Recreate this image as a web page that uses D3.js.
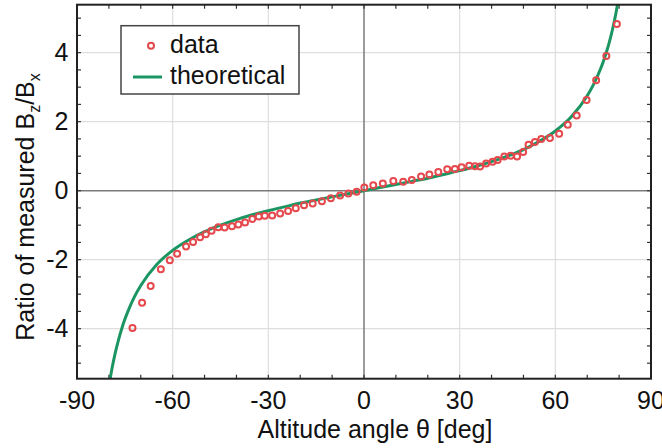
<!DOCTYPE html>
<html><head><meta charset="utf-8">
<script src="https://cdn.jsdelivr.net/npm/d3@7"></script>
<style>html,body{margin:0;padding:0;background:#fff;}svg{display:block;font-family:"Liberation Sans",Arial,sans-serif;}</style>
</head><body>
<svg id="c" width="662" height="448"></svg>
<script>
// measured data: altitude angle (deg) and ratio Bz/Bx
const dataAngle = [-72.6,-69.6,-66.9,-63.7,-60.9,-58.6,-55.8,-53.6,-51.4,-49.6,-47.8,-45.7,-43.7,-41.4,-39.4,-37.3,-35.0,-33.0,-31.1,-28.8,-26.3,-23.8,-21.4,-18.8,-16.1,-13.2,-10.4,-7.5,-4.9,-2.3,0.1,2.9,5.9,9.2,12.3,15.0,17.9,20.5,23.3,26.1,28.5,30.6,33.0,34.8,36.4,38.3,40.3,41.9,44.0,46.0,48.0,49.9,51.6,53.6,55.6,58.3,61.2,63.9,66.7,69.8,72.8,76.0,79.3];
const dataRatio = [-3.98,-3.25,-2.76,-2.28,-2.02,-1.83,-1.62,-1.49,-1.35,-1.26,-1.16,-1.06,-1.07,-1.03,-0.98,-0.92,-0.82,-0.75,-0.73,-0.72,-0.66,-0.59,-0.51,-0.42,-0.37,-0.31,-0.22,-0.14,-0.08,-0.03,0.09,0.16,0.21,0.28,0.26,0.31,0.41,0.47,0.54,0.62,0.63,0.68,0.72,0.71,0.70,0.79,0.84,0.89,0.99,1.01,0.99,1.12,1.33,1.41,1.50,1.53,1.65,1.91,2.18,2.63,3.20,3.90,4.83];
// theoretical curve points
const theoAngle = [-80,-79,-78,-77,-76,-75,-74,-72,-70,-65,-60,-55,-50,-45,-40,-35,-30,-25,-20,-15,-10,-5,0,5,10,15,20,25,30,35,40,45,50,55,60,65,70,72,74,75,76,77,78,79,80];
const theoRatio = [-5.67,-5.14,-4.70,-4.33,-4.01,-3.73,-3.49,-3.08,-2.75,-2.14,-1.73,-1.43,-1.19,-1.00,-0.84,-0.70,-0.58,-0.47,-0.36,-0.27,-0.18,-0.09,0,0.09,0.18,0.27,0.36,0.47,0.58,0.70,0.84,1.00,1.19,1.43,1.73,2.14,2.75,3.08,3.49,3.73,4.01,4.33,4.70,5.14,5.67];
const xTickValues = [-90,-60,-30,0,30,60,90];
const yTickValues = [-4,-2,0,2,4];
const seriesNames = ["data","theoretical"];

const svg = d3.select("#c");
const L=77, R=651, T=4.7, B=378.7;
const x = d3.scaleLinear().domain([-90,90]).range([L,R]);
const y = d3.scaleLinear().domain([-5.45,5.39]).range([B,T]);
const red="#e5484d", green="#1b9663";

svg.append("defs").append("clipPath").attr("id","clip").append("rect")
  .attr("x",L).attr("y",T).attr("width",R-L).attr("height",B-T);

// grid
const g = svg.append("g");
g.selectAll(".gx").data(xTickValues.filter(v=>v!==0&&Math.abs(v)<90)).join("line")
  .attr("x1",d=>x(d)).attr("x2",d=>x(d)).attr("y1",T).attr("y2",B)
  .attr("stroke","#dedede").attr("stroke-width",1.2);
g.selectAll(".gy").data(yTickValues.filter(v=>v!==0)).join("line")
  .attr("y1",d=>y(d)).attr("y2",d=>y(d)).attr("x1",L).attr("x2",R)
  .attr("stroke","#dedede").attr("stroke-width",1.2);
// zero lines
g.append("line").attr("x1",x(0)).attr("x2",x(0)).attr("y1",T).attr("y2",B).attr("stroke","#7a7a7a").attr("stroke-width",1.5);
g.append("line").attr("y1",y(0)).attr("y2",y(0)).attr("x1",L).attr("x2",R).attr("stroke","#7a7a7a").attr("stroke-width",1.5);

// minor ticks
const xMinor = d3.range(-80,90,10);
const yMinor = d3.range(-5,5.01,0.5);
const tk = svg.append("g").attr("stroke","#333").attr("stroke-width",1.2);
xMinor.forEach(v=>{
  tk.append("line").attr("x1",x(v)).attr("x2",x(v)).attr("y1",B).attr("y2",B-4);
  tk.append("line").attr("x1",x(v)).attr("x2",x(v)).attr("y1",T).attr("y2",T+4);
});
yMinor.forEach(v=>{
  tk.append("line").attr("y1",y(v)).attr("y2",y(v)).attr("x1",L).attr("x2",L+4);
  tk.append("line").attr("y1",y(v)).attr("y2",y(v)).attr("x1",R).attr("x2",R-4);
});

// theoretical line
const line = d3.line().x((d,i)=>x(theoAngle[i])).y((d,i)=>y(theoRatio[i])).curve(d3.curveMonotoneX);
svg.append("path").datum(theoAngle).attr("d",line).attr("clip-path","url(#clip)")
  .attr("fill","none").attr("stroke",green).attr("stroke-width",3);

// data points
svg.append("g").selectAll("circle").data(dataAngle).join("circle")
  .attr("cx",(d,i)=>x(dataAngle[i])).attr("cy",(d,i)=>y(dataRatio[i])).attr("r",3)
  .attr("fill","none").attr("stroke",red).attr("stroke-width",2);

// frame
svg.append("rect").attr("x",L).attr("y",T).attr("width",R-L).attr("height",B-T)
  .attr("fill","none").attr("stroke","#222").attr("stroke-width",2);

// tick labels
svg.append("g").selectAll("text").data(xTickValues).join("text")
  .attr("x",d=>x(d)).attr("y",409).attr("text-anchor","middle")
  .attr("font-size",25).attr("fill","#111").text(d=>d);
svg.append("g").selectAll("text").data(yTickValues).join("text")
  .attr("x",68.5).attr("y",d=>y(d)+8.5).attr("text-anchor","end")
  .attr("font-size",25).attr("fill","#111").text(d=>d);

// axis titles
svg.append("text").attr("x",375).attr("y",438).attr("text-anchor","middle")
  .attr("font-size",25).attr("fill","#111").text("Altitude angle θ [deg]");
const yt = svg.append("text").attr("transform","translate(34,207) rotate(-90)")
  .attr("text-anchor","middle").attr("font-size",25).attr("fill","#111");
yt.append("tspan").text("Ratio of measured B");
yt.append("tspan").attr("font-size",16).attr("dy",6).text("z");
yt.append("tspan").attr("dy",-6).text("/B");
yt.append("tspan").attr("font-size",16).attr("dy",6).text("x");

// legend
const lg = svg.append("g");
lg.append("rect").attr("x",121).attr("y",25.7).attr("width",178).attr("height",68.3)
  .attr("fill","#fff").attr("stroke","#444").attr("stroke-width",1.5);
lg.append("circle").attr("cx",151).attr("cy",45.7).attr("r",3).attr("fill","none").attr("stroke",red).attr("stroke-width",2);
lg.append("line").attr("x1",133).attr("x2",162).attr("y1",77).attr("y2",77).attr("stroke",green).attr("stroke-width",3);
lg.append("text").attr("x",170).attr("y",53).attr("font-size",25).attr("fill","#111").text(seriesNames[0]);
lg.append("text").attr("x",170).attr("y",84).attr("font-size",25).attr("fill","#111").text(seriesNames[1]);
</script>
</body></html>
